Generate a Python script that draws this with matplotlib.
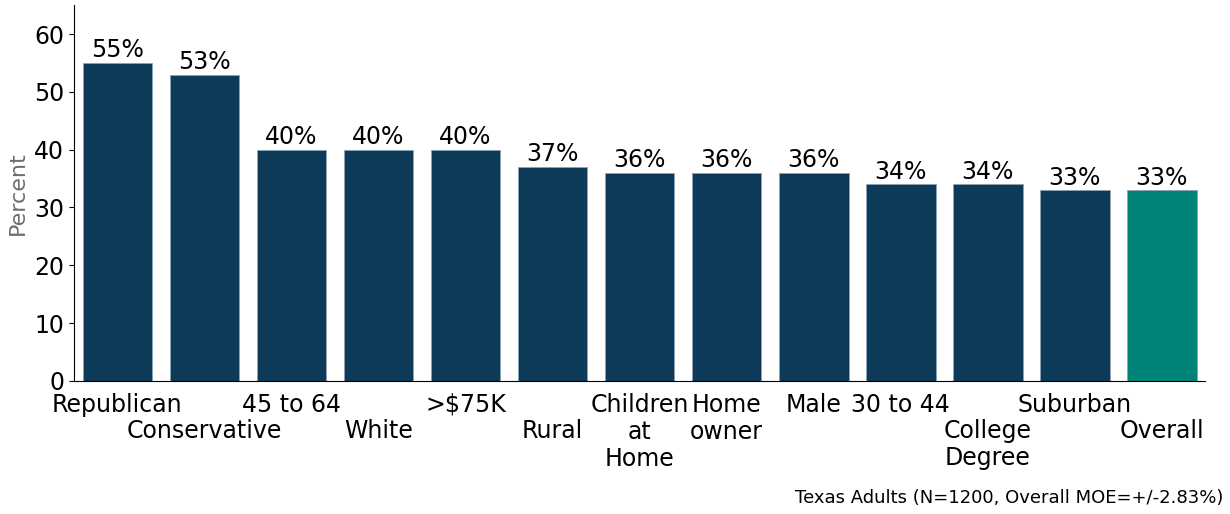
import matplotlib.pyplot as plt
import numpy as np

groups = ["Republican", "Conservative", "45 to 64", "White", ">$75K", "Rural",
          "Children\nat\nHome", "Home\nowner", "Male", "30 to 44", "College\nDegree",
          "Suburban", "Overall"]
# labels pushed down one line so neighbours don't collide
dropped = [1, 3, 5, 10, 12]
percent = [55, 53, 40, 40, 40, 37, 36, 36, 36, 34, 34, 33, 33]
bar_colors = ["#0d3a58"] * 12 + ["#00847a"]

fig = plt.figure(figsize=(12.3, 5.14), dpi=100)
ax = fig.add_axes([0.060, 0.259, 0.920, 0.731])

x = np.arange(len(groups))
bars = ax.bar(x, percent, width=0.8, color=bar_colors, edgecolor="#8ba3b5", linewidth=0.6)
for b, v in zip(bars, percent):
    ax.text(b.get_x() + b.get_width() / 2, v + 0.1, f"{v}%", ha="center", va="bottom", fontsize=17)

ax.set_xticks(x)
ax.set_xticklabels(groups, fontsize=17, linespacing=1.17)
ax.tick_params(axis="x", length=0, pad=8.5)
for i, tick in enumerate(ax.xaxis.get_major_ticks()):
    if i in dropped:
        tick.set_pad(8.5 + 19.1)
ax.tick_params(axis="y", labelsize=17)
ax.set_yticks(range(0, 61, 10))
ax.set_ylim(0, 65)
ax.set_xlim(-0.5, len(groups) - 0.5)
ax.set_ylabel("Percent", fontsize=16, color="#6e6e6e")
ax.spines["top"].set_visible(False)
ax.spines["right"].set_visible(False)

fig.text(0.995, 0.014, "Texas Adults (N=1200, Overall MOE=+/-2.83%)", ha="right", va="bottom", fontsize=13)

fig.savefig("out.png", dpi=100)
